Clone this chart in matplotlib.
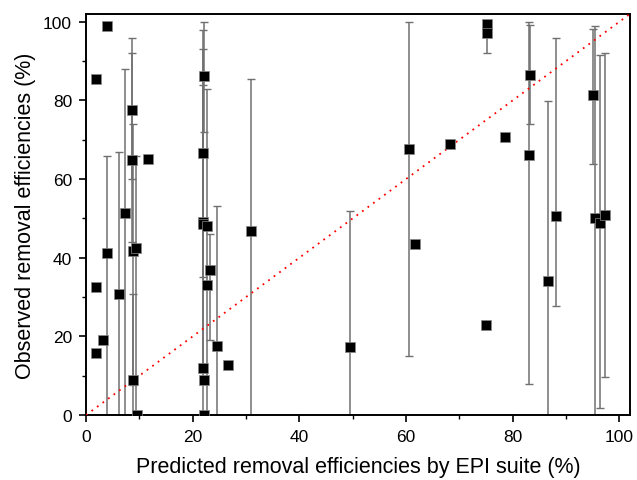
import numpy as np
import matplotlib
matplotlib.use("Agg")
import matplotlib.pyplot as plt
from matplotlib.ticker import MultipleLocator

plt.rcParams['font.family'] = ['Liberation Sans', 'DejaVu Sans']

# predicted (EPI suite) vs observed removal efficiencies, % ; nan = no error bar
pred = [3.9, 1.9, 8.7, 8.7, 11.6, 7.3, 4.0, 8.8, 9.4, 1.9, 6.2, 3.2, 1.9, 8.8, 9.5,
        22.1, 21.9, 21.9, 22.0, 22.6, 23.3, 22.6, 24.5, 26.7, 22.0, 22.1, 22.1,
        31.0, 49.5,
        60.6, 61.7, 68.3, 75.2, 75.2, 75.0, 78.6, 83.2, 83.0, 86.7, 88.2,
        95.1, 95.5, 96.3, 97.3]
obs = [99.0, 85.4, 77.5, 64.9, 65.1, 51.4, 41.2, 41.8, 42.5, 32.5, 30.8, 19.2, 15.7, 8.8, 0.0,
       86.2, 66.6, 49.0, 48.5, 48.2, 36.9, 33.0, 17.6, 12.8, 12.0, 8.8, 0.0,
       46.7, 17.2,
       67.7, 43.6, 68.9, 99.4, 97.1, 22.9, 70.8, 86.5, 66.0, 34.0, 50.6,
       81.5, 50.1, 48.8, 50.9]
nan = np.nan
obs_lo = [nan, nan, 59.9, 43.9, nan, -5, -5, 7.6, -5, nan, -5, nan, nan, -5, nan,
          72.0, 35.2, -5, 13.0, -5, 19.1, nan, -5, nan, nan, nan, nan,
          -5, -5,
          14.9, nan, nan, nan, 92.1, nan, nan, 73.9, 7.8, -5, 27.7,
          63.9, -2, 1.8, 9.8]
obs_hi = [nan, nan, 95.9, 92.1, nan, 87.9, 65.9, 74.1, 65.9, nan, 66.8, nan, nan, 30.8, nan,
          100.0, 98.0, 93.0, 84.0, 83.0, 46.0, nan, 53.2, nan, nan, nan, nan,
          85.5, 51.8,
          100.0, nan, nan, nan, 99.0, nan, nan, 99.1, 100.0, 79.9, 95.9,
          98.1, 99.0, 91.5, 92.1]
one_to_one = [0, 105]

x = np.array(pred)
y = np.array(obs)
lo = np.array(obs_lo)
hi = np.array(obs_hi)
has_bar = ~np.isnan(lo)

fig = plt.figure(figsize=(6.37, 4.81), dpi=100)
ax = fig.add_axes([0.135, 0.135, 0.854, 0.834])

ax.errorbar(x[has_bar], y[has_bar],
            yerr=[y[has_bar] - lo[has_bar], hi[has_bar] - y[has_bar]],
            fmt='none', ecolor='#707070', elinewidth=1.1, capsize=3, capthick=1.0, zorder=2)
ax.plot(one_to_one, one_to_one, color='red', linestyle=(0, (1, 2.8)), linewidth=1.3, zorder=3)
ax.plot(x, y, 's', color='black', markersize=7.0, markeredgecolor='#888888',
        markeredgewidth=0.5, zorder=4)

ax.set_xlim(0, 102)
ax.set_ylim(0, 102)
ax.xaxis.set_major_locator(MultipleLocator(20))
ax.xaxis.set_minor_locator(MultipleLocator(10))
ax.yaxis.set_major_locator(MultipleLocator(20))
ax.yaxis.set_minor_locator(MultipleLocator(10))
ax.tick_params(which='major', direction='out', length=5, width=1.2, labelsize=12.5, pad=5)
ax.tick_params(which='minor', direction='out', length=3, width=1.0)
for s in ax.spines.values():
    s.set_linewidth(1.4)

ax.set_xlabel('Predicted removal efficiencies by EPI suite (%)', fontsize=15.5, labelpad=9)
ax.set_ylabel('Observed removal efficiencies (%)', fontsize=15.5, labelpad=5)

fig.savefig('out.png', dpi=100)
